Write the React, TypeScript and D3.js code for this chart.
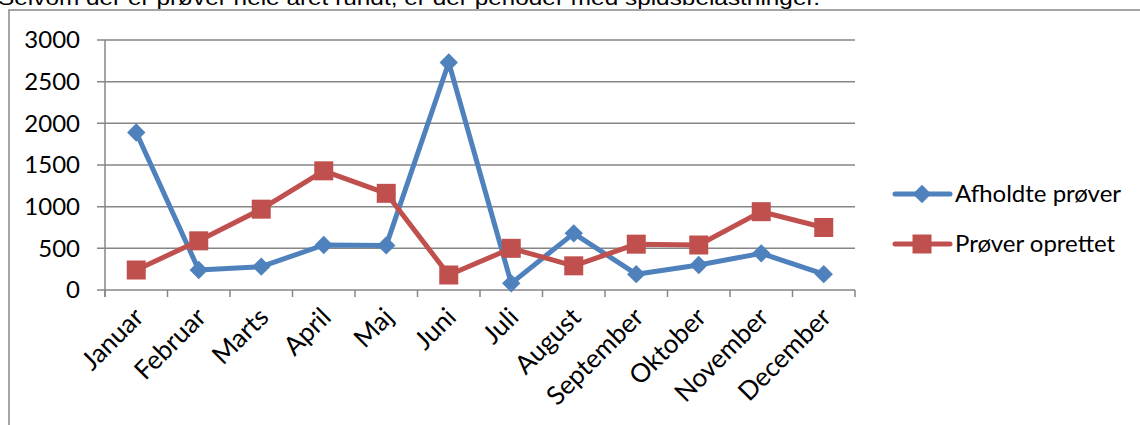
import { useRef, useEffect } from 'react';
import * as d3 from 'd3';

const months = [
  'Januar', 'Februar', 'Marts', 'April', 'Maj', 'Juni',
  'Juli', 'August', 'September', 'Oktober', 'November', 'December',
];
const afholdte = [1890, 240, 280, 540, 535, 2730, 80, 680, 190, 300, 440, 190];
const oprettet = [240, 590, 970, 1430, 1160, 180, 500, 290, 550, 540, 940, 750];
const yTicks = [0, 500, 1000, 1500, 2000, 2500, 3000];
const seriesNames = ['Afholdte prøver', 'Prøver oprettet'];
const caption = 'Selvom der er prøver hele året rundt, er der perioder med spidsbelastninger.';

const BLUE = '#4F81BD';
const RED = '#C0504D';
const GRID = '#868686';
const FONT = 'Lato, "Noto Sans", sans-serif';

export default function App() {
  const ref = useRef<SVGSVGElement>(null);

  useEffect(() => {
    if (!ref.current) return;
    const width = 1140;
    const height = 425;
    const margin = { top: 40, right: 285, bottom: 135, left: 105 };

    d3.select(ref.current).selectAll('*').remove();
    const svg = d3.select(ref.current).attr('width', width).attr('height', height);

    // caption, cut off at the top like the source page
    svg
      .append('text')
      .attr('x', -2)
      .attr('y', 5)
      .attr('font-family', '"Liberation Sans", Arial, sans-serif')
      .attr('font-size', 21)
      .attr('textLength', 822)
      .attr('lengthAdjust', 'spacingAndGlyphs')
      .attr('fill', '#000')
      .text(caption);

    // chart frame
    svg
      .append('rect')
      .attr('x', 9)
      .attr('y', 10)
      .attr('width', 1200)
      .attr('height', 500)
      .attr('fill', '#fff')
      .attr('stroke', '#888')
      .attr('stroke-width', 1.5);

    const x = d3
      .scaleBand()
      .domain(months)
      .range([margin.left, width - margin.right])
      .padding(0);

    const y = d3
      .scaleLinear()
      .domain([0, 3000])
      .range([height - margin.bottom, margin.top]);

    const x0 = margin.left;
    const x1 = width - margin.right;
    const y0 = y(0);

    // gridlines and y ticks
    svg
      .append('g')
      .selectAll('line')
      .data(yTicks)
      .join('line')
      .attr('x1', x0 - 8)
      .attr('x2', x1)
      .attr('y1', (d) => y(d))
      .attr('y2', (d) => y(d))
      .attr('stroke', GRID)
      .attr('stroke-width', 1.5);

    svg
      .append('g')
      .selectAll('text')
      .data(yTicks)
      .join('text')
      .attr('x', 80)
      .attr('y', (d) => y(d))
      .attr('dy', '0.35em')
      .attr('text-anchor', 'end')
      .attr('font-family', FONT)
      .attr('font-size', 24)
      .attr('fill', '#000')
      .text((d) => String(d));

    // y axis line
    svg
      .append('line')
      .attr('x1', x0)
      .attr('x2', x0)
      .attr('y1', y(3000))
      .attr('y2', y0 + 7)
      .attr('stroke', GRID)
      .attr('stroke-width', 1.5);

    // x ticks at band edges
    const edges = months.map((m) => x(m) as number).concat([x1]);
    svg
      .append('g')
      .selectAll('line')
      .data(edges)
      .join('line')
      .attr('x1', (d) => d)
      .attr('x2', (d) => d)
      .attr('y1', y0)
      .attr('y2', y0 + 7)
      .attr('stroke', GRID)
      .attr('stroke-width', 1.5);

    const cx = (m: string) => (x(m) as number) + x.bandwidth() / 2;

    // x labels
    svg
      .append('g')
      .selectAll('text')
      .data(months)
      .join('text')
      .attr('transform', (d) => `translate(${cx(d) - 4},${y0 + 16}) rotate(-45)`)
      .attr('text-anchor', 'end')
      .attr('dy', '0.7em')
      .attr('font-family', FONT)
      .attr('font-size', 26)
      .attr('fill', '#000')
      .text((d) => d);

    const line = d3
      .line<number>()
      .x((_, i) => cx(months[i]))
      .y((d) => y(d));

    const diamond = d3.symbol().type(d3.symbolSquare).size(13 * 13);

    // series 1: blue diamonds
    svg
      .append('path')
      .datum(afholdte)
      .attr('d', line)
      .attr('fill', 'none')
      .attr('stroke', BLUE)
      .attr('stroke-width', 5)
      .attr('stroke-linejoin', 'round');
    svg
      .append('g')
      .selectAll('path')
      .data(afholdte)
      .join('path')
      .attr('d', diamond)
      .attr('transform', (d, i) => `translate(${cx(months[i])},${y(d)}) rotate(45)`)
      .attr('fill', BLUE);

    // series 2: red squares
    svg
      .append('path')
      .datum(oprettet)
      .attr('d', line)
      .attr('fill', 'none')
      .attr('stroke', RED)
      .attr('stroke-width', 5)
      .attr('stroke-linejoin', 'round');
    svg
      .append('g')
      .selectAll('rect')
      .data(oprettet)
      .join('rect')
      .attr('x', (d, i) => cx(months[i]) - 9.5)
      .attr('y', (d) => y(d) - 9.5)
      .attr('width', 19)
      .attr('height', 19)
      .attr('fill', RED);

    // legend
    const legend = svg.append('g');
    const rows = [
      { name: seriesNames[0], color: BLUE, yy: 194 },
      { name: seriesNames[1], color: RED, yy: 244 },
    ];
    rows.forEach((r, i) => {
      legend
        .append('line')
        .attr('x1', 895)
        .attr('x2', 950)
        .attr('y1', r.yy)
        .attr('y2', r.yy)
        .attr('stroke', r.color)
        .attr('stroke-width', 5)
        .attr('stroke-linecap', 'round');
      if (i === 0) {
        legend
          .append('path')
          .attr('d', diamond)
          .attr('transform', `translate(922,${r.yy}) rotate(45)`)
          .attr('fill', r.color);
      } else {
        legend
          .append('rect')
          .attr('x', 922 - 9.5)
          .attr('y', r.yy - 9.5)
          .attr('width', 19)
          .attr('height', 19)
          .attr('fill', r.color);
      }
      legend
        .append('text')
        .attr('x', 955)
        .attr('y', r.yy)
        .attr('dy', '0.35em')
        .attr('font-family', FONT)
        .attr('font-size', 24)
        .attr('fill', '#000')
        .text(r.name);
    });
  }, []);

  return (
    <div style={{ position: 'absolute', left: 0, top: 0 }}>
      <svg ref={ref} style={{ display: 'block' }}></svg>
    </div>
  );
}
